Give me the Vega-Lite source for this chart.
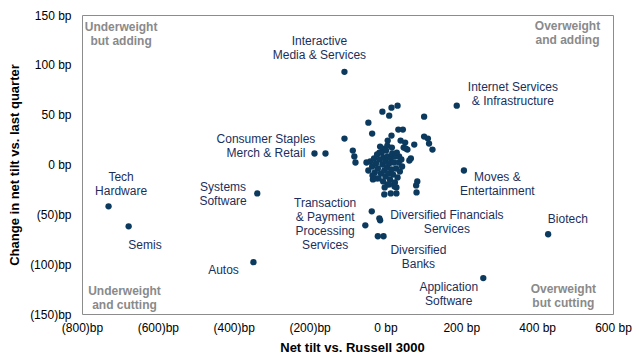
{
  "$schema": "https://vega.github.io/schema/vega-lite/v6.json",
  "width": 531,
  "height": 299,
  "autosize": {"type": "none"},
  "padding": {"left": 82, "top": 15, "right": 26, "bottom": 47},
  "background": "white",
  "config": {
    "view": {"stroke": "#8c8c8c", "strokeWidth": 1},
    "font": "Liberation Sans",
    "text": {"lineBreak": "\n"}
  },
  "datasets": {
    "points": [
      {"x": -108, "y": 93}, {"x": -187, "y": 11}, {"x": -158, "y": 11}, {"x": -108, "y": 26},
      {"x": 188, "y": 59}, {"x": 207, "y": -6}, {"x": 429, "y": -70}, {"x": 258, "y": -114},
      {"x": -730, "y": -42}, {"x": -677, "y": -62}, {"x": -338, "y": -29}, {"x": -348, "y": -98},
      {"x": -36, "y": -47}, {"x": -53, "y": -61}, {"x": -14, "y": -56}, {"x": -20, "y": -72}, {"x": -5, "y": -72},
      {"x": -16, "y": -54},
      {"x": -3, "y": -30}, {"x": 14, "y": -29}, {"x": 29, "y": -29}, {"x": 29, "y": -23}, {"x": 6, "y": -20},
      {"x": 84, "y": -17}, {"x": 81, "y": -21}, {"x": 82, "y": -28},
      {"x": 32, "y": 59}, {"x": 16, "y": 57}, {"x": -8, "y": 53}, {"x": 10, "y": 49}, {"x": 102, "y": 48},
      {"x": -45, "y": 42}, {"x": -35, "y": 31}, {"x": 34, "y": 35}, {"x": 46, "y": 35}, {"x": 16, "y": 29},
      {"x": 6, "y": 24}, {"x": 40, "y": 24}, {"x": 52, "y": 22}, {"x": 102, "y": 28}, {"x": 115, "y": 21},
      {"x": 112, "y": 26}, {"x": 124, "y": 15}, {"x": 76, "y": 20}, {"x": 58, "y": 15}, {"x": 48, "y": 17},
      {"x": -86, "y": 14}, {"x": -82, "y": 8}, {"x": -79, "y": 2}, {"x": -50, "y": 2}, {"x": -7, "y": 16},
      {"x": 17, "y": 17}, {"x": 67, "y": 6}, {"x": 36, "y": 8}, {"x": -16, "y": 12}, {"x": 54, "y": 16},
      {"x": 63, "y": 4},
      {"x": -40, "y": 3}, {"x": -35, "y": -2}, {"x": -30, "y": 6}, {"x": -28, "y": -8}, {"x": -25, "y": 1},
      {"x": -22, "y": 10}, {"x": -20, "y": -4}, {"x": -18, "y": -14}, {"x": -15, "y": 5}, {"x": -12, "y": -9},
      {"x": -10, "y": 12}, {"x": -8, "y": 0}, {"x": -6, "y": -17}, {"x": -5, "y": 7}, {"x": -3, "y": -6},
      {"x": 0, "y": 3}, {"x": 0, "y": -12}, {"x": 2, "y": 14}, {"x": 4, "y": -3}, {"x": 6, "y": 8},
      {"x": 8, "y": -9}, {"x": 10, "y": 1}, {"x": 12, "y": -15}, {"x": 14, "y": 6}, {"x": 16, "y": -5},
      {"x": 18, "y": 11}, {"x": 20, "y": -10}, {"x": 22, "y": 2}, {"x": 25, "y": -18}, {"x": 26, "y": 8},
      {"x": 28, "y": -4}, {"x": 32, "y": -13}, {"x": 35, "y": 2}, {"x": 38, "y": -7}, {"x": 42, "y": 5},
      {"x": 44, "y": -2}, {"x": -33, "y": -15}, {"x": -14, "y": 18}, {"x": 5, "y": 19}, {"x": 24, "y": -22},
      {"x": -2, "y": -23}, {"x": 30, "y": 12}, {"x": -45, "y": -6}, {"x": 10, "y": -20}, {"x": -25, "y": -14},
      {"x": -34, "y": -11}
    ],
    "labels": [
      {"x": -174, "y": 124, "text": "Interactive\nMedia & Services"},
      {"x": -315, "y": 26, "text": "Consumer Staples\nMerch & Retail"},
      {"x": 336, "y": 78, "text": "Internet Services\n& Infrastructure"},
      {"x": 295, "y": -12.6, "text": "Moves &\nEntertainment"},
      {"x": -697, "y": -12.6, "text": "Tech\nHardware"},
      {"x": -634, "y": -80.5, "text": "Semis"},
      {"x": -428, "y": -22.6, "text": "Systems\nSoftware"},
      {"x": -427, "y": -105.6, "text": "Autos"},
      {"x": -159, "y": -38.7, "text": "Transaction\n& Payment\nProcessing\nServices"},
      {"x": 162, "y": -50.8, "text": "Diversified Financials\nServices"},
      {"x": 87, "y": -86.2, "text": "Diversified\nBanks"},
      {"x": 167, "y": -123.4, "text": "Application\nSoftware"},
      {"x": 481, "y": -55, "text": "Biotech"}
    ],
    "quadrants": [
      {"x": -697, "y": 138.2, "text": "Underweight\nbut adding"},
      {"x": 480, "y": 139.2, "text": "Overweight\nand adding"},
      {"x": -688, "y": -126.7, "text": "Underweight\nand cutting"},
      {"x": 469, "y": -125.1, "text": "Overweight\nbut cutting"}
    ]
  },
  "encoding": {
    "x": {
      "field": "x", "type": "quantitative",
      "scale": {"domain": [-800, 600], "nice": false, "zero": false},
      "axis": {
        "values": [-800, -600, -400, -200, 0, 200, 400, 600],
        "labelExpr": "datum.value < 0 ? '(' + format(-datum.value, 'd') + ')bp' : format(datum.value, 'd') + ' bp'",
        "title": "Net tilt vs. Russell  3000",
        "titleFont": "Liberation Sans", "titleFontSize": 13, "titleFontWeight": "bold", "titleColor": "#000000",
        "titleX": 270, "titlePadding": 8,
        "labelFont": "Liberation Sans", "labelFontSize": 12, "labelColor": "#000000",
        "labelPadding": 8, "tickSize": 0, "ticks": false, "domain": false, "grid": false,
        "labelFlush": false, "labelOverlap": false
      }
    },
    "y": {
      "field": "y", "type": "quantitative",
      "scale": {"domain": [-150, 150], "nice": false, "zero": false},
      "axis": {
        "values": [-150, -100, -50, 0, 50, 100, 150],
        "labelExpr": "datum.value < 0 ? '(' + format(-datum.value, 'd') + ')bp' : format(datum.value, 'd') + ' bp'",
        "title": "Change in net tilt vs. last quarter",
        "titleFont": "Liberation Sans", "titleFontSize": 13, "titleFontWeight": "bold", "titleColor": "#000000",
        "titlePadding": 8,
        "labelFont": "Liberation Sans", "labelFontSize": 12, "labelColor": "#000000",
        "labelPadding": 11, "tickSize": 0, "ticks": false, "domain": false, "grid": false,
        "labelFlush": false, "labelOverlap": false
      }
    }
  },
  "layer": [
    {
      "mark": {"type": "rule", "color": "#bfbfbf", "strokeWidth": 1},
      "encoding": {"x": {"datum": 0}, "y": null}
    },
    {
      "mark": {"type": "rule", "color": "#bfbfbf", "strokeWidth": 1},
      "encoding": {"y": {"datum": 0}, "x": null}
    },
    {
      "data": {"name": "points"},
      "mark": {"type": "circle", "size": 40, "opacity": 1, "color": "#0b3a5e"}
    },
    {
      "data": {"name": "labels"},
      "mark": {"type": "text", "fontSize": 12, "color": "#1b2f5c", "align": "center", "baseline": "middle", "lineHeight": 14, "font": "Liberation Sans"},
      "encoding": {"text": {"field": "text"}}
    },
    {
      "data": {"name": "quadrants"},
      "mark": {"type": "text", "fontSize": 12, "fontWeight": "bold", "color": "#8a8a8a", "align": "center", "baseline": "middle", "lineHeight": 14, "font": "Liberation Sans"},
      "encoding": {"text": {"field": "text"}}
    }
  ]
}
